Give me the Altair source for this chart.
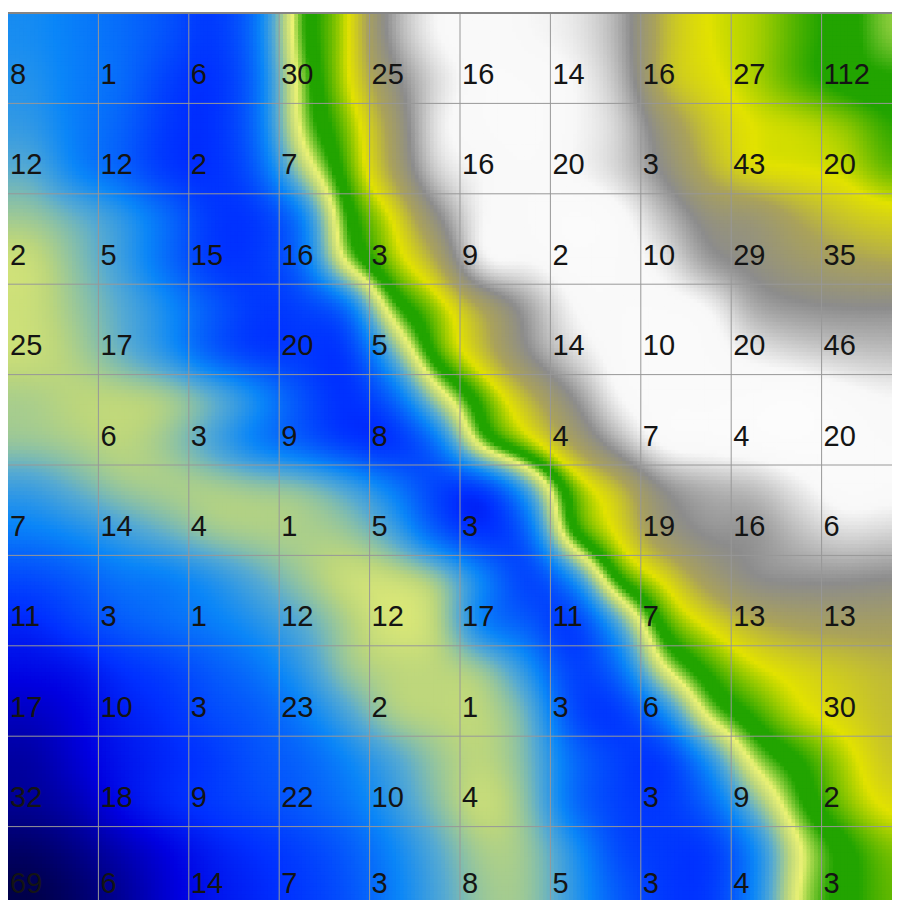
import altair as alt
import numpy as np
import pandas as pd

# ---------------- data ----------------
CELL_PX = 90.4          # size of one grid cell in pixels
VIEW_W = 884            # visible plot width (px)
VIEW_H = 887            # visible plot height (px)
SUB = 24                # sub-samples per cell for the smooth surface

# numbers printed in the cells, rows top -> bottom ("" = empty cell)
row0 = ["8", "1", "6", "30", "25", "16", "14", "16", "27", "112"]
row1 = ["12", "12", "2", "7", "", "16", "20", "3", "43", "20"]
row2 = ["2", "5", "15", "16", "3", "9", "2", "10", "29", "35"]
row3 = ["25", "17", "", "20", "5", "", "14", "10", "20", "46"]
row4 = ["", "6", "3", "9", "8", "", "4", "7", "4", "20"]
row5 = ["7", "14", "4", "1", "5", "3", "", "19", "16", "6"]
row6 = ["11", "3", "1", "12", "12", "17", "11", "7", "13", "13"]
row7 = ["17", "10", "3", "23", "2", "1", "3", "6", "", "30"]
row8 = ["32", "18", "9", "22", "10", "4", "", "3", "9", "2"]
row9 = ["69", "6", "14", "7", "3", "8", "5", "3", "4", "3"]
labels = [row0, row1, row2, row3, row4, row5, row6, row7, row8, row9]

# surface level read at half-cell resolution (20 x 20), rows top -> bottom
f00 = [0.26, 0.24, 0.22, 0.19, 0.16, 0.23, 0.45, 0.55, 0.78, 0.90, 0.92, 0.90, 0.88, 0.80, 0.62, 0.56, 0.54, 0.50, 0.47, 0.43]
f01 = [0.27, 0.24, 0.22, 0.17, 0.15, 0.22, 0.43, 0.55, 0.72, 0.86, 0.92, 0.92, 0.90, 0.82, 0.62, 0.57, 0.54, 0.50, 0.47, 0.46]
f02 = [0.28, 0.24, 0.21, 0.16, 0.15, 0.22, 0.42, 0.52, 0.67, 0.88, 0.92, 0.93, 0.90, 0.85, 0.70, 0.60, 0.56, 0.55, 0.53, 0.49]
f03 = [0.31, 0.25, 0.21, 0.16, 0.15, 0.20, 0.36, 0.50, 0.65, 0.85, 0.90, 0.92, 0.90, 0.85, 0.74, 0.63, 0.57, 0.56, 0.55, 0.51]
f04 = [0.35, 0.32, 0.28, 0.22, 0.16, 0.16, 0.24, 0.46, 0.56, 0.74, 0.90, 0.92, 0.94, 0.92, 0.82, 0.72, 0.70, 0.64, 0.60, 0.58]
f05 = [0.38, 0.34, 0.29, 0.22, 0.16, 0.16, 0.22, 0.42, 0.53, 0.64, 0.89, 0.90, 0.93, 0.92, 0.88, 0.77, 0.73, 0.69, 0.66, 0.64]
f06 = [0.38, 0.35, 0.31, 0.26, 0.20, 0.16, 0.17, 0.22, 0.44, 0.53, 0.65, 0.78, 0.90, 0.92, 0.92, 0.90, 0.79, 0.76, 0.75, 0.75]
f07 = [0.38, 0.36, 0.32, 0.27, 0.20, 0.16, 0.16, 0.16, 0.32, 0.50, 0.61, 0.75, 0.86, 0.92, 0.93, 0.92, 0.88, 0.85, 0.83, 0.82]
f08 = [0.36, 0.37, 0.37, 0.36, 0.32, 0.26, 0.19, 0.15, 0.21, 0.37, 0.50, 0.62, 0.75, 0.90, 0.93, 0.93, 0.94, 0.95, 0.92, 0.90]
f09 = [0.35, 0.36, 0.37, 0.35, 0.30, 0.24, 0.20, 0.16, 0.15, 0.23, 0.44, 0.54, 0.66, 0.80, 0.92, 0.93, 0.94, 0.95, 0.93, 0.92]
f10 = [0.29, 0.32, 0.35, 0.36, 0.36, 0.35, 0.34, 0.30, 0.24, 0.17, 0.16, 0.30, 0.51, 0.61, 0.75, 0.80, 0.82, 0.88, 0.93, 0.92]
f11 = [0.24, 0.26, 0.29, 0.32, 0.35, 0.36, 0.36, 0.35, 0.30, 0.20, 0.15, 0.21, 0.47, 0.57, 0.70, 0.76, 0.76, 0.82, 0.86, 0.85]
f12 = [0.18, 0.20, 0.23, 0.24, 0.27, 0.31, 0.35, 0.38, 0.38, 0.35, 0.25, 0.17, 0.26, 0.48, 0.57, 0.68, 0.75, 0.76, 0.76, 0.75]
f13 = [0.14, 0.17, 0.20, 0.22, 0.24, 0.27, 0.31, 0.36, 0.39, 0.37, 0.24, 0.20, 0.16, 0.30, 0.49, 0.57, 0.63, 0.66, 0.67, 0.67]
f14 = [0.11, 0.12, 0.15, 0.17, 0.20, 0.23, 0.28, 0.35, 0.37, 0.37, 0.35, 0.27, 0.17, 0.22, 0.40, 0.49, 0.55, 0.58, 0.60, 0.62]
f15 = [0.08, 0.10, 0.13, 0.15, 0.18, 0.20, 0.24, 0.30, 0.36, 0.37, 0.37, 0.32, 0.18, 0.16, 0.25, 0.42, 0.49, 0.55, 0.58, 0.61]
f16 = [0.06, 0.09, 0.12, 0.14, 0.16, 0.19, 0.21, 0.25, 0.30, 0.35, 0.37, 0.33, 0.22, 0.17, 0.16, 0.27, 0.42, 0.48, 0.54, 0.60]
f17 = [0.05, 0.07, 0.11, 0.14, 0.16, 0.18, 0.20, 0.23, 0.28, 0.34, 0.38, 0.34, 0.22, 0.17, 0.16, 0.21, 0.33, 0.45, 0.52, 0.57]
f18 = [0.02, 0.04, 0.07, 0.10, 0.13, 0.15, 0.17, 0.20, 0.25, 0.31, 0.36, 0.35, 0.27, 0.18, 0.16, 0.16, 0.25, 0.40, 0.47, 0.52]
f19 = [0.00, 0.02, 0.05, 0.09, 0.12, 0.14, 0.16, 0.19, 0.24, 0.30, 0.35, 0.35, 0.28, 0.20, 0.16, 0.16, 0.25, 0.41, 0.47, 0.51]
field = [f00, f01, f02, f03, f04, f05, f06, f07, f08, f09,
         f10, f11, f12, f13, f14, f15, f16, f17, f18, f19]

# colour ramp of the surface
stops = [0.0, 0.10, 0.15, 0.25, 0.31, 0.37, 0.405, 0.455, 0.485, 0.56, 0.65, 0.75, 0.90, 1.0]
ramp = ["#00004a", "#0000e0", "#0030ff", "#0a86f8", "#56aad2", "#bcd67c", "#ecf274",
        "#22a400", "#22a400", "#e2e200", "#aaa25a", "#8c8c8c", "#f8f8f8", "#ffffff"]

col_lines = [1, 2, 3, 4, 5, 6, 7, 8, 9]
row_lines = [1, 2, 3, 4, 5, 6, 7, 8, 9]

# ---------------- smooth surface (Catmull-Rom resampling + light blur) ----------------
F = np.array(field, dtype=float)
n = F.shape[0]


def cr_matrix(m_out):
    u = (np.arange(m_out) + 0.5) / SUB          # position in cell units
    s = 2.0 * u - 0.5                           # position in half-cell index units
    M = np.zeros((m_out, n))
    for k, sv in enumerate(s):
        i = int(np.floor(sv))
        t = sv - i
        w = [(-0.5 * t**3 + t**2 - 0.5 * t),
             (1.5 * t**3 - 2.5 * t**2 + 1.0),
             (-1.5 * t**3 + 2.0 * t**2 + 0.5 * t),
             (0.5 * t**3 - 0.5 * t**2)]
        for d, wv in zip(range(-1, 3), w):
            idx = min(max(i + d, 0), n - 1)
            M[k, idx] += wv
    return M


def blur(a, sigma):
    r = int(3 * sigma) + 1
    k = np.exp(-0.5 * (np.arange(-r, r + 1) / sigma) ** 2)
    k /= k.sum()
    p = np.pad(a, ((0, 0), (r, r)), mode="edge")
    a = np.array([np.convolve(row, k, mode="valid") for row in p])
    p = np.pad(a, ((r, r), (0, 0)), mode="edge")
    a = np.array([np.convolve(col, k, mode="valid") for col in p.T]).T
    return a


m_out = 10 * SUB
Mx = cr_matrix(m_out)
fine = Mx @ F @ Mx.T
fine = blur(fine, sigma=10.0 / (CELL_PX / SUB))
fine = np.clip(fine, 0.0, 1.0)

gy, gx = np.mgrid[0:m_out, 0:m_out]
surf = pd.DataFrame({"gx": gx.ravel(), "gy": gy.ravel(), "v": np.round(fine.ravel(), 4)})
surf = surf[(surf.gx / SUB < VIEW_W / CELL_PX + 0.05) & (surf.gy / SUB < VIEW_H / CELL_PX + 0.05)]

text_rows = []
for r, row in enumerate(labels):
    for c, lab in enumerate(row):
        if lab != "":
            text_rows.append({"col": c, "row": r, "label": lab})
texts = pd.DataFrame(text_rows)

# ---------------- chart ----------------
xs = alt.Scale(domain=[0, VIEW_W / CELL_PX], nice=False, zero=False)
ys = alt.Scale(domain=[0, VIEW_H / CELL_PX], nice=False, zero=False, reverse=True)

surface = alt.Chart(surf).transform_calculate(
    x0=f"datum.gx / {SUB}", x1=f"(datum.gx + 1.35) / {SUB}",
    y0=f"datum.gy / {SUB}", y1=f"(datum.gy + 1.35) / {SUB}",
).mark_rect(clip=True, strokeWidth=0).encode(
    x=alt.X("x0:Q", scale=xs, axis=None),
    x2="x1:Q",
    y=alt.Y("y0:Q", scale=ys, axis=None),
    y2="y1:Q",
    color=alt.Color("v:Q", scale=alt.Scale(domain=stops, range=ramp, interpolate="rgb"), legend=None),
)

vlines = alt.Chart(pd.DataFrame({"pos": col_lines})).mark_rule(
    color="#989898", strokeWidth=1).encode(x=alt.X("pos:Q", scale=xs, axis=None))
hlines = alt.Chart(pd.DataFrame({"pos": row_lines})).mark_rule(
    color="#989898", strokeWidth=1).encode(y=alt.Y("pos:Q", scale=ys, axis=None))
topline = alt.Chart(pd.DataFrame({"pos": [0]})).mark_rule(
    color="#858585", strokeWidth=2).encode(y=alt.Y("pos:Q", scale=ys, axis=None))

text_style = dict(align="left", baseline="alphabetic", dx=2,
                  font="Liberation Sans, Arial, sans-serif", fontSize=29, color="#141414")
text_enc = dict(
    x=alt.X("col:Q", scale=xs, axis=None),
    y=alt.Y("row:Q", scale=ys, axis=None),
    text="label:N",
)
numbers = alt.Chart(texts).transform_filter("datum.row < 9").mark_text(dy=71, **text_style).encode(**text_enc)
numbers_last = alt.Chart(texts).transform_filter("datum.row >= 9").mark_text(dy=66, **text_style).encode(**text_enc)

chart = alt.layer(surface, vlines, hlines, topline, numbers, numbers_last).properties(
    width=VIEW_W, height=VIEW_H,
    padding={"left": 0, "top": 5, "right": 0, "bottom": 0},
    autosize=alt.AutoSizeParams(type="none"),
    background="white",
).configure_view(strokeWidth=0)

chart.save("out.html", embed_options={"renderer": "svg", "actions": False})
